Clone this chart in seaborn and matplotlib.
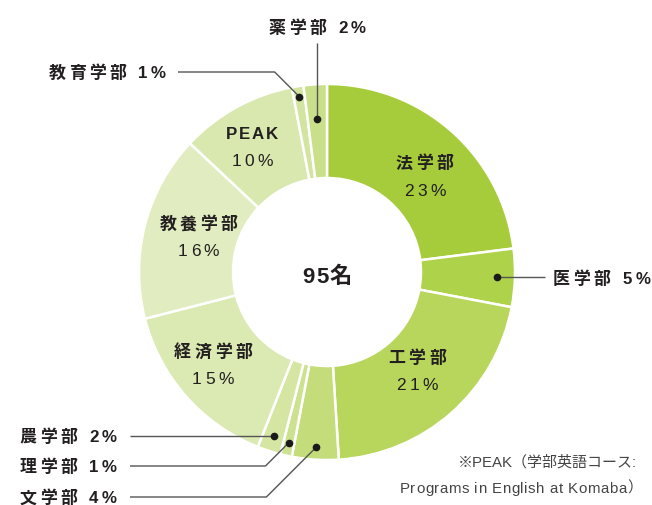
import numpy as np
import matplotlib
matplotlib.use("Agg")
import matplotlib.pyplot as plt
import seaborn as sns

# Faculty breakdown (share of 95 students, %), clockwise from the top
faculties = ["法学部", "医学部", "工学部", "文学部", "理学部", "農学部",
             "経済学部", "教養学部", "PEAK", "教育学部", "薬学部"]
shares = [23, 5, 21, 4, 1, 2, 15, 16, 10, 1, 2]
total_students = 95
center_unit = "名"
footnote = ["※PEAK（学部英語コース:", "Programs in English at Komaba）"]

colors = ["#a6cc3b", "#afd24b", "#b8d65c", "#c4dc79", "#cde291", "#d4e6a1",
          "#dbe9b3", "#e1edc1", "#d9e8ae", "#d2e4a0", "#c9df89"]

sns.set_theme(style="white")
FAMILY = ["Liberation Sans", "Noto Sans CJK JP", "DejaVu Sans"]
plt.rcParams["font.family"] = FAMILY

W, H = 652, 505
DPI = 100
fig = plt.figure(figsize=(W / DPI, H / DPI), dpi=DPI)
ax = fig.add_axes([0, 0, 1, 1])

cx, cy, R = 327, H - 272, 188
wedges, _ = ax.pie(shares, colors=colors, startangle=90, counterclock=False,
                   center=(cx, cy), radius=R,
                   wedgeprops=dict(width=R * 0.5, edgecolor="white", linewidth=1.8))
ax.set_xlim(0, W)
ax.set_ylim(0, H)
ax.set_aspect("equal")
ax.axis("off")

TXT = "#231f20"
LINE = "#555555"
renderer = fig.canvas.get_renderer()


def tracked(x, y, s, size, weight="normal", track=3.0, ha="left", color=TXT):
    """Draw s with extra letter spacing; (x, y) is the anchor / vertical centre."""
    em = size * DPI / 72
    base = y - 0.37 * em
    items = []
    for ch in s:
        if ch == " ":
            items.append((None, 0.28 * em))
            continue
        t = ax.text(0, base, ch, fontsize=size, fontweight=weight, color=color,
                    ha="left", va="baseline")
        w = t.get_window_extent(renderer=renderer).width
        items.append((t, w))
    total = sum(w for _, w in items) + track * (len(items) - 1)
    x0 = {"left": x, "center": x - total / 2, "right": x - total}[ha]
    for t, w in items:
        if t is not None:
            t.set_x(x0)
        x0 += w + track


def mid_point(i, frac, nudge=0.0):
    w = wedges[i]
    a = np.deg2rad((w.theta1 + w.theta2) / 2 - nudge)
    return cx + frac * R * np.cos(a), cy + frac * R * np.sin(a)


def pct(v):
    return f"{v}%"


# labels inside the larger wedges: (radius fraction, clockwise nudge in degrees)
inside = {0: (0.73, 4.0), 2: (0.71, -1.0), 6: (0.78, 2.5), 7: (0.71, 1.0), 8: (0.78, -2.0)}
for i, (frac, nudge) in inside.items():
    x, y = mid_point(i, frac, nudge)
    name = faculties[i]
    latin = name.isascii()
    tracked(x, y + 13.5, name, 12.2, "bold", track=2.0 if latin else 3.5, ha="center")
    tracked(x, y - 13.5, pct(shares[i]), 12.5, "normal", track=3.3, ha="center")

tracked(cx, cy - 3, f"{total_students}{center_unit}", 16, "bold", track=1.5, ha="center")


def leader(points, dot):
    xs, ys = zip(*points)
    ax.plot(xs, ys, color=LINE, lw=1.0, solid_capstyle="butt")
    ax.plot([dot[0]], [dot[1]], "o", ms=4.5, color="#1a1a1a")


def outside_label(i, x, y, ha):
    tracked(x, y, f"{faculties[i]} {pct(shares[i])}", 12.2, "bold", track=3.5, ha=ha)


# 医学部 — horizontal to the right
d = mid_point(1, 0.905)
leader([d, (545, d[1])], d)
outside_label(1, 553, d[1], "left")

# 農学部 — horizontal to the left
d = mid_point(5, 0.915)
leader([d, (130, d[1])], d)
outside_label(5, 117, d[1], "right")

# 理学部 / 文学部 — diagonal then horizontal to the left
for i, frac, ty in [(4, 0.93, H - 466), (3, 0.935, H - 497)]:
    d = mid_point(i, frac)
    ex = d[0] - (d[1] - ty)
    leader([d, (ex, ty), (130, ty)], d)
    outside_label(i, 117, ty, "right")

# 教育学部 — diagonal then horizontal to the upper left
d = mid_point(9, 0.945)
ty = H - 72
ex = d[0] - (ty - d[1])
leader([d, (ex, ty), (178, ty)], d)
outside_label(9, 166, ty, "right")

# 薬学部 — vertical up
d = mid_point(10, 0.815)
leader([d, (d[0], H - 43)], d)
outside_label(10, d[0], H - 27, "center")

# footnote
NOTE = "#444444"
ax.text(637, H - 462, footnote[0], ha="right", va="center", fontsize=10.8, color=NOTE)
tracked(642, H - 487, footnote[1], 10.8, "normal", track=0.55, ha="right", color=NOTE)

fig.savefig("out.png", dpi=DPI, facecolor="white")
